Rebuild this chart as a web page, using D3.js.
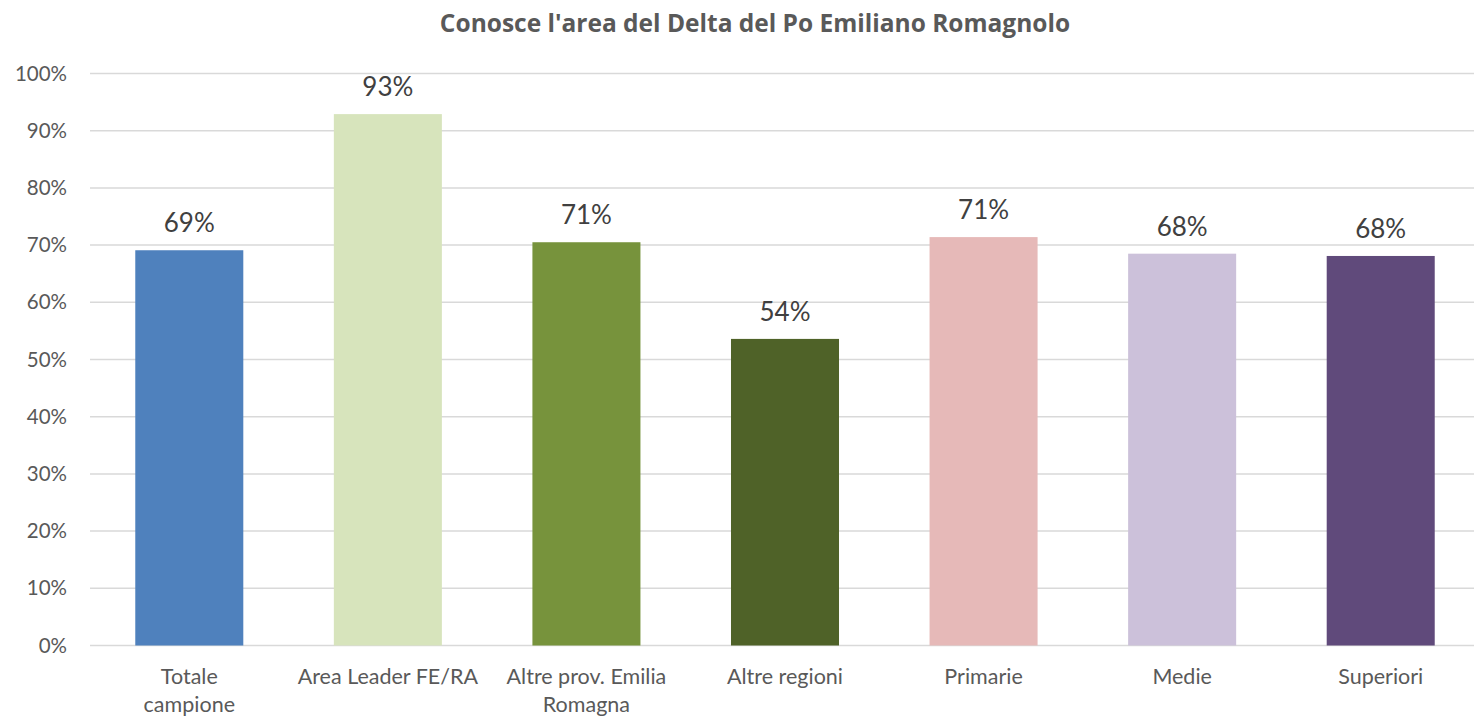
<!DOCTYPE html>
<html><head><meta charset="utf-8">
<script src="https://cdn.jsdelivr.net/npm/d3@7"></script>
<style>body{margin:0;background:#fff}svg{display:block}</style>
</head><body>
<svg id="chart" width="1474" height="717"></svg>
<script>
const categories = [["Totale","campione"],["Area Leader FE/RA"],["Altre prov. Emilia","Romagna"],["Altre regioni"],["Primarie"],["Medie"],["Superiori"]];
const values = [0.691, 0.929, 0.705, 0.536, 0.714, 0.685, 0.681];
const labels = ["69%","93%","71%","54%","71%","68%","68%"];
const colors = ["#4F81BD","#D7E4BC","#77933C","#4F6228","#E6B9B8","#CCC1DA","#604A7B"];
const yTicks = [0,0.1,0.2,0.3,0.4,0.5,0.6,0.7,0.8,0.9,1.0];
const title = "Conosce l'area del Delta del Po Emiliano Romagnolo";

const svg = d3.select("#chart");
const font = "Lato, 'Open Sans', sans-serif";
const x = d3.scaleBand().domain(d3.range(categories.length)).range([90, 1480]).paddingInner(0.456).paddingOuter(0.228);
const y = d3.scaleLinear().domain([0,1]).range([645.5, 73.5]);

svg.append("text").attr("x", 755).attr("y", 32).attr("text-anchor","middle")
  .attr("font-family", "'Open Sans', sans-serif").attr("font-weight","bold").attr("font-size", 24.5)
  .attr("fill","#595959").text(title);

const yAxis = d3.axisLeft(y).tickValues(yTicks).tickFormat(d3.format(".0%")).tickSize(0).tickPadding(0);
const gy = svg.append("g").attr("transform","translate(67,0)").call(yAxis);
gy.select(".domain").remove();
gy.selectAll("text").attr("font-family", font).attr("font-size", 20.5).attr("fill","#595959");

svg.append("g").selectAll("line").data(yTicks).join("line")
  .attr("x1", 90).attr("x2", 1474).attr("y1", d => y(d)).attr("y2", d => y(d))
  .attr("stroke","#d9d9d9").attr("stroke-width", 1.5);

svg.append("g").selectAll("rect").data(values).join("rect")
  .attr("x", (d,i) => x(i)).attr("width", x.bandwidth())
  .attr("y", d => y(d)).attr("height", d => y(0) - y(d))
  .attr("fill", (d,i) => colors[i]);

svg.append("g").selectAll("text").data(values).join("text")
  .attr("x", (d,i) => x(i) + x.bandwidth()/2).attr("y", d => y(d) - 18)
  .attr("text-anchor","middle").attr("font-family", font).attr("font-size", 26)
  .attr("fill","#404040").text((d,i) => labels[i]);

const xAxis = d3.axisBottom(x).tickSize(0).tickFormat("");
const gx = svg.append("g").attr("transform","translate(0,645.5)").call(xAxis);
gx.select(".domain").remove();
gx.selectAll(".tick").each(function(d){
  const t = d3.select(this).append("text").attr("text-anchor","middle")
    .attr("font-family", font).attr("font-size", 21.5).attr("fill","#595959");
  categories[d].forEach((line, k) => {
    t.append("tspan").attr("x", 0).attr("y", 38 + k*28).text(line);
  });
});
</script>
</body></html>
